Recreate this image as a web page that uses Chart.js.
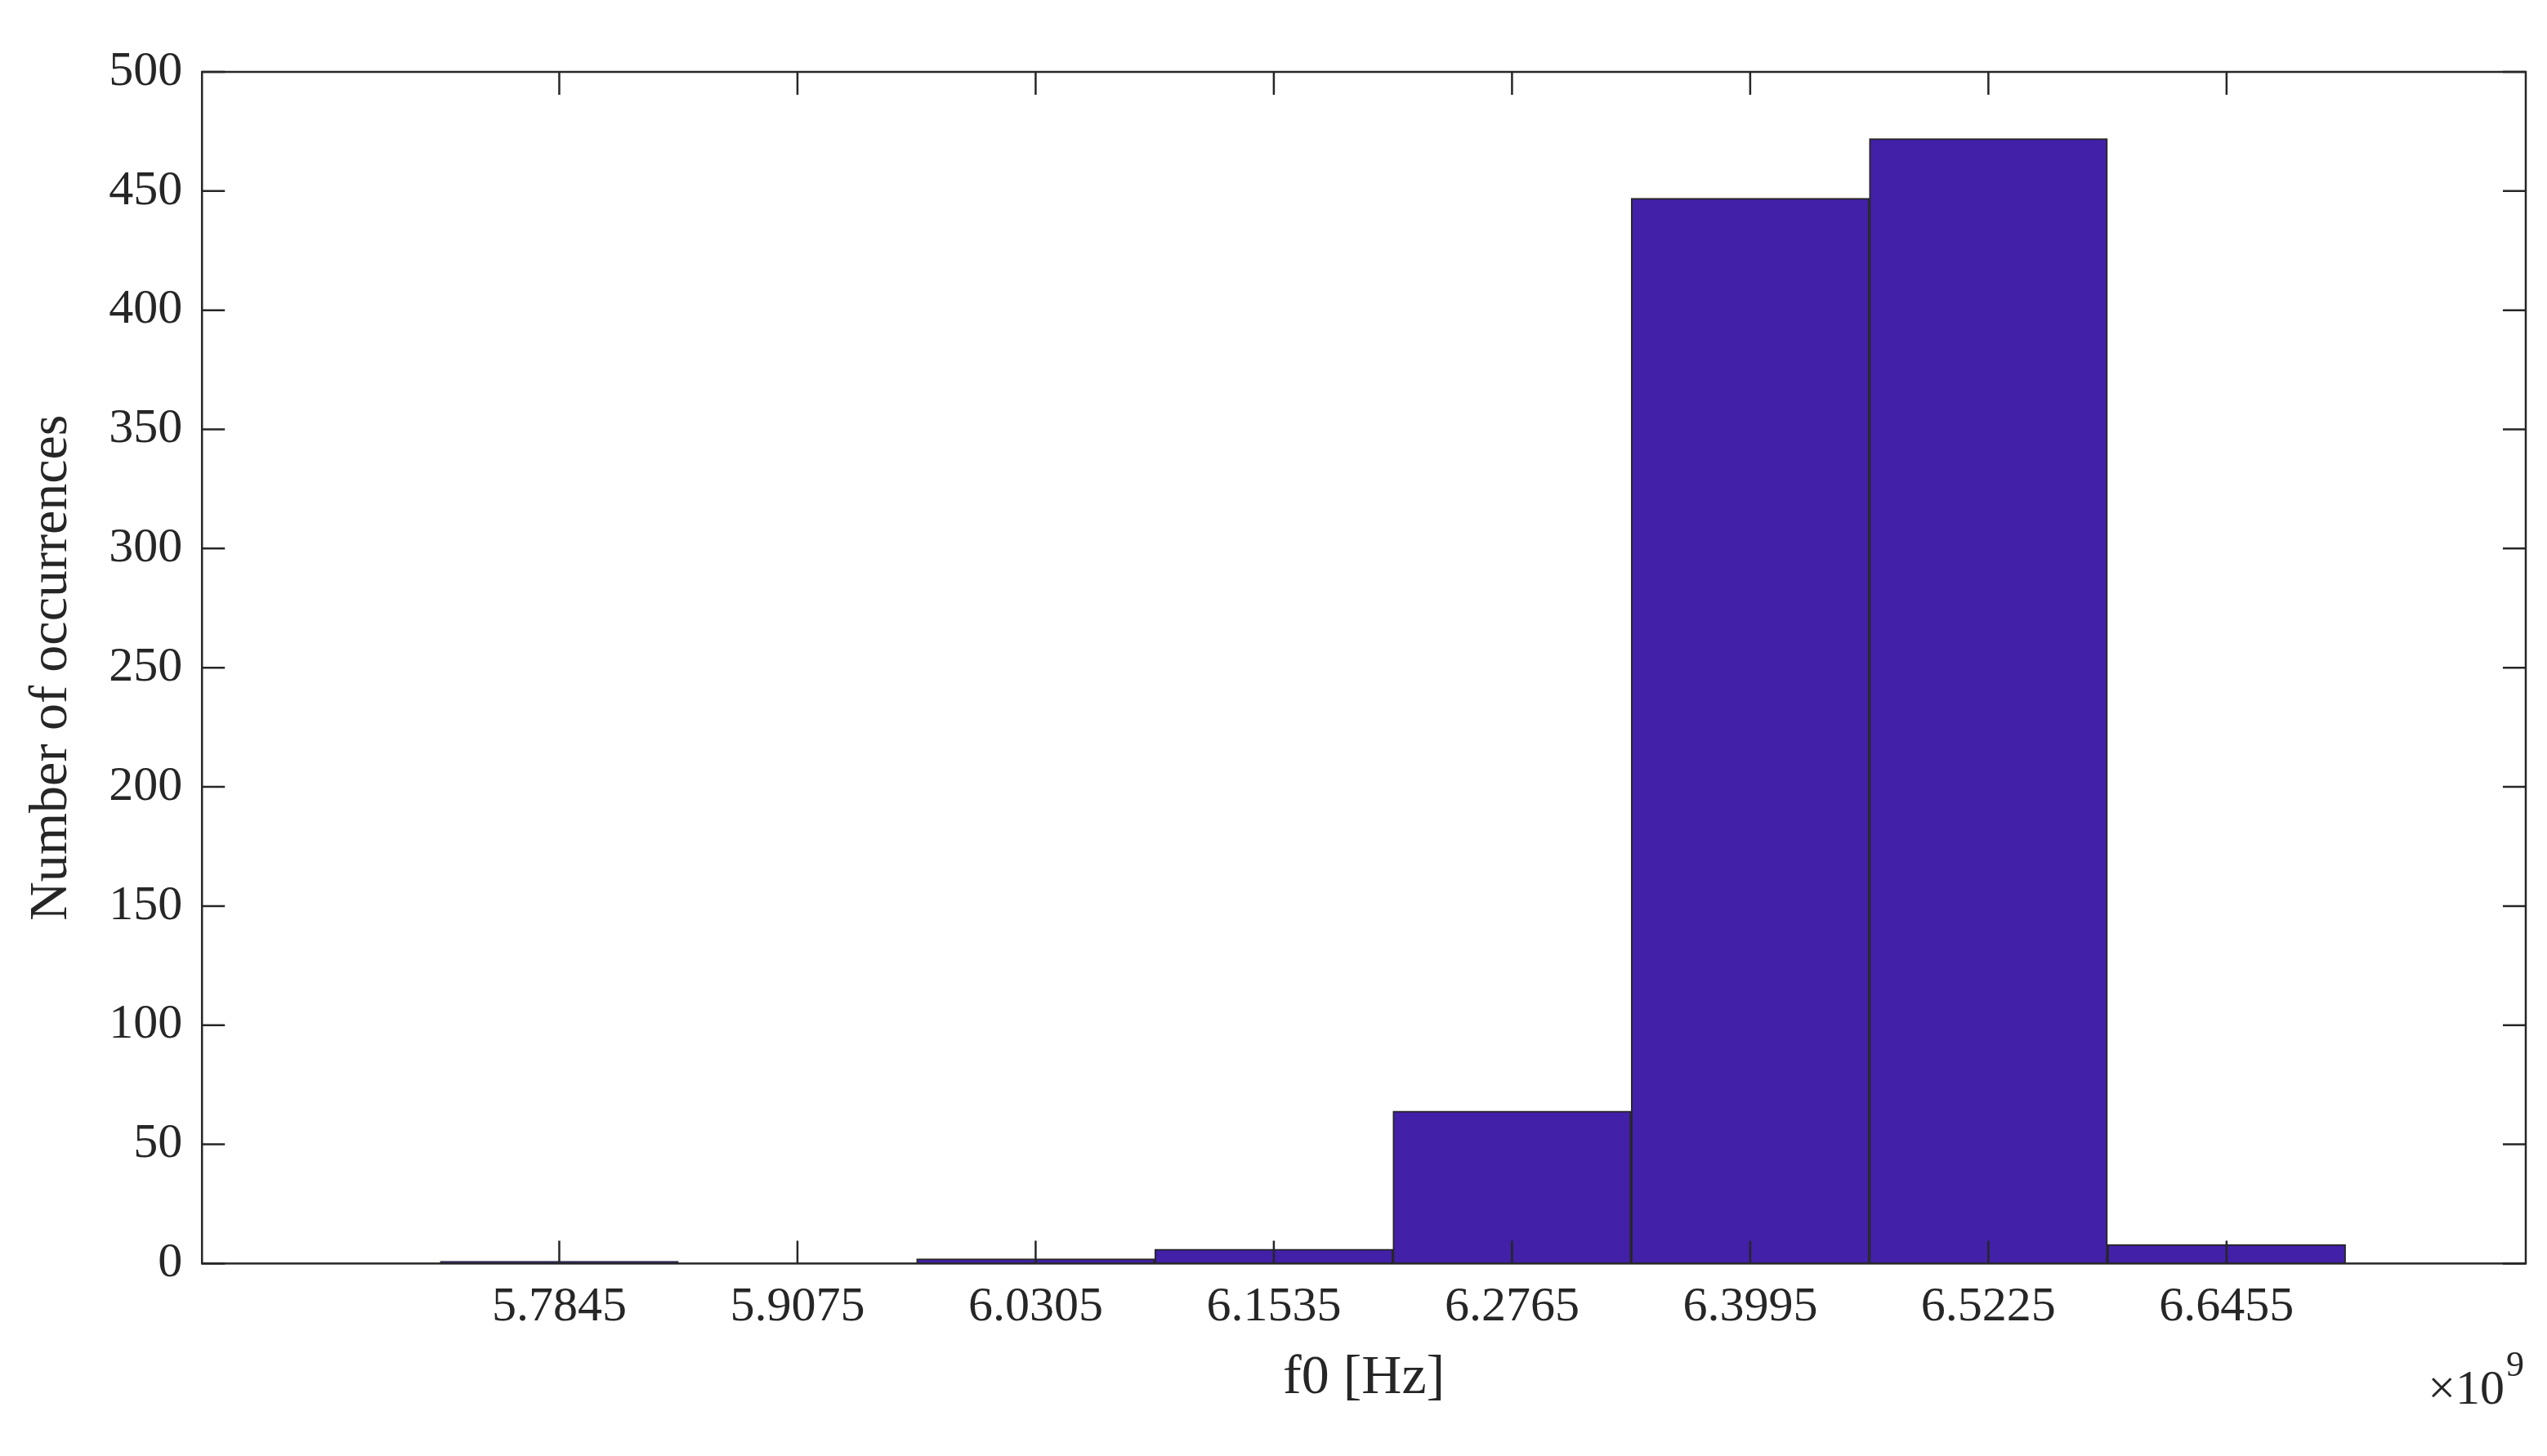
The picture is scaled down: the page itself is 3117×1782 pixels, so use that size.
<!DOCTYPE html>
<html>
<head>
<meta charset="utf-8">
<script src="https://cdn.jsdelivr.net/npm/chart.js@4.4.0/dist/chart.umd.min.js"></script>
<style>
  html, body { margin: 0; padding: 0; background: #fff; }
  #wrap { width: 3117px; height: 1782px; position: relative; }
</style>
</head>
<body>
<div id="wrap"><canvas id="hist"></canvas></div>
<script>
// bin centres (x 1e9 Hz) and counts
const binCenters = [5.7845, 5.9075, 6.0305, 6.1535, 6.2765, 6.3995, 6.5225, 6.6455]
const counts = [1, 0, 2, 6, 64, 447, 472, 8]
const xTicks = [5.7845, 5.9075, 6.0305, 6.1535, 6.2765, 6.3995, 6.5225, 6.6455]
const yTicks = [0, 50, 100, 150, 200, 250, 300, 350, 400, 450, 500]

const font = 'Liberation Serif'
const tickLen = 28

// MATLAB style box with inward ticks on all four sides, plus the x10^9 exponent
const boxPlugin = {
    id: 'box',
    afterDraw(chart) {
        const { ctx, chartArea: a, scales } = chart
        ctx.save()
        ctx.strokeStyle = '#262626'
        ctx.lineWidth = 2.5
        ctx.strokeRect(a.left, a.top, a.right - a.left, a.bottom - a.top)
        ctx.beginPath()
        xTicks.forEach(v => {
            const x = scales.x.getPixelForValue(v)
            ctx.moveTo(x, a.bottom); ctx.lineTo(x, a.bottom - tickLen)
            ctx.moveTo(x, a.top); ctx.lineTo(x, a.top + tickLen)
        })
        yTicks.forEach(v => {
            const y = scales.y.getPixelForValue(v)
            ctx.moveTo(a.left, y); ctx.lineTo(a.left + tickLen, y)
            ctx.moveTo(a.right, y); ctx.lineTo(a.right - tickLen, y)
        })
        ctx.stroke()
        ctx.fillStyle = '#262626'
        ctx.textBaseline = 'alphabetic'
        ctx.textAlign = 'right'
        ctx.font = '60px "' + font + '"'
        ctx.fillText('\u00d710', a.right - 26, a.bottom + 172)
        ctx.font = '44px "' + font + '"'
        ctx.textAlign = 'left'
        ctx.fillText('9', a.right - 24, a.bottom + 138)
        ctx.restore()
    }
}

new Chart(document.getElementById('hist'), {
    type: 'bar',
    data: {
        datasets: [{
            data: binCenters.map((x, i) => ({ x: x, y: counts[i] })),
            backgroundColor: '#4220a8',
            borderColor: '#262626',
            borderWidth: 2,
            barPercentage: 1,
            categoryPercentage: 1
        }]
    },
    options: {
        responsive: true,
        maintainAspectRatio: false,
        animation: false,
        devicePixelRatio: 1,
        layout: { padding: { left: 20, right: 26, top: 88, bottom: 50 } },
        plugins: { legend: { display: false }, tooltip: { enabled: false } },
        scales: {
            x: {
                type: 'linear',
                offset: false,
                min: 5.6,
                max: 6.8,
                afterBuildTicks: s => { s.ticks = xTicks.map(v => ({ value: v })) },
                grid: { display: false, offset: false },
                border: { display: false },
                ticks: {
                    font: { family: font, size: 60 },
                    color: '#262626',
                    padding: 10,
                    maxRotation: 0,
                    callback: v => v.toFixed(4)
                },
                title: {
                    display: true,
                    text: 'f0 [Hz]',
                    font: { family: font, size: 68 },
                    color: '#262626',
                    padding: { top: 0 }
                }
            },
            y: {
                min: 0,
                max: 500,
                afterBuildTicks: s => { s.ticks = yTicks.map(v => ({ value: v })) },
                grid: { display: false },
                border: { display: false },
                ticks: {
                    font: { family: font, size: 60 },
                    color: '#262626',
                    padding: 16
                },
                title: {
                    display: true,
                    text: 'Number of occurrences',
                    font: { family: font, size: 66 },
                    color: '#262626',
                    padding: { bottom: 14 }
                }
            }
        }
    },
    plugins: [boxPlugin]
})
</script>
</body>
</html>
